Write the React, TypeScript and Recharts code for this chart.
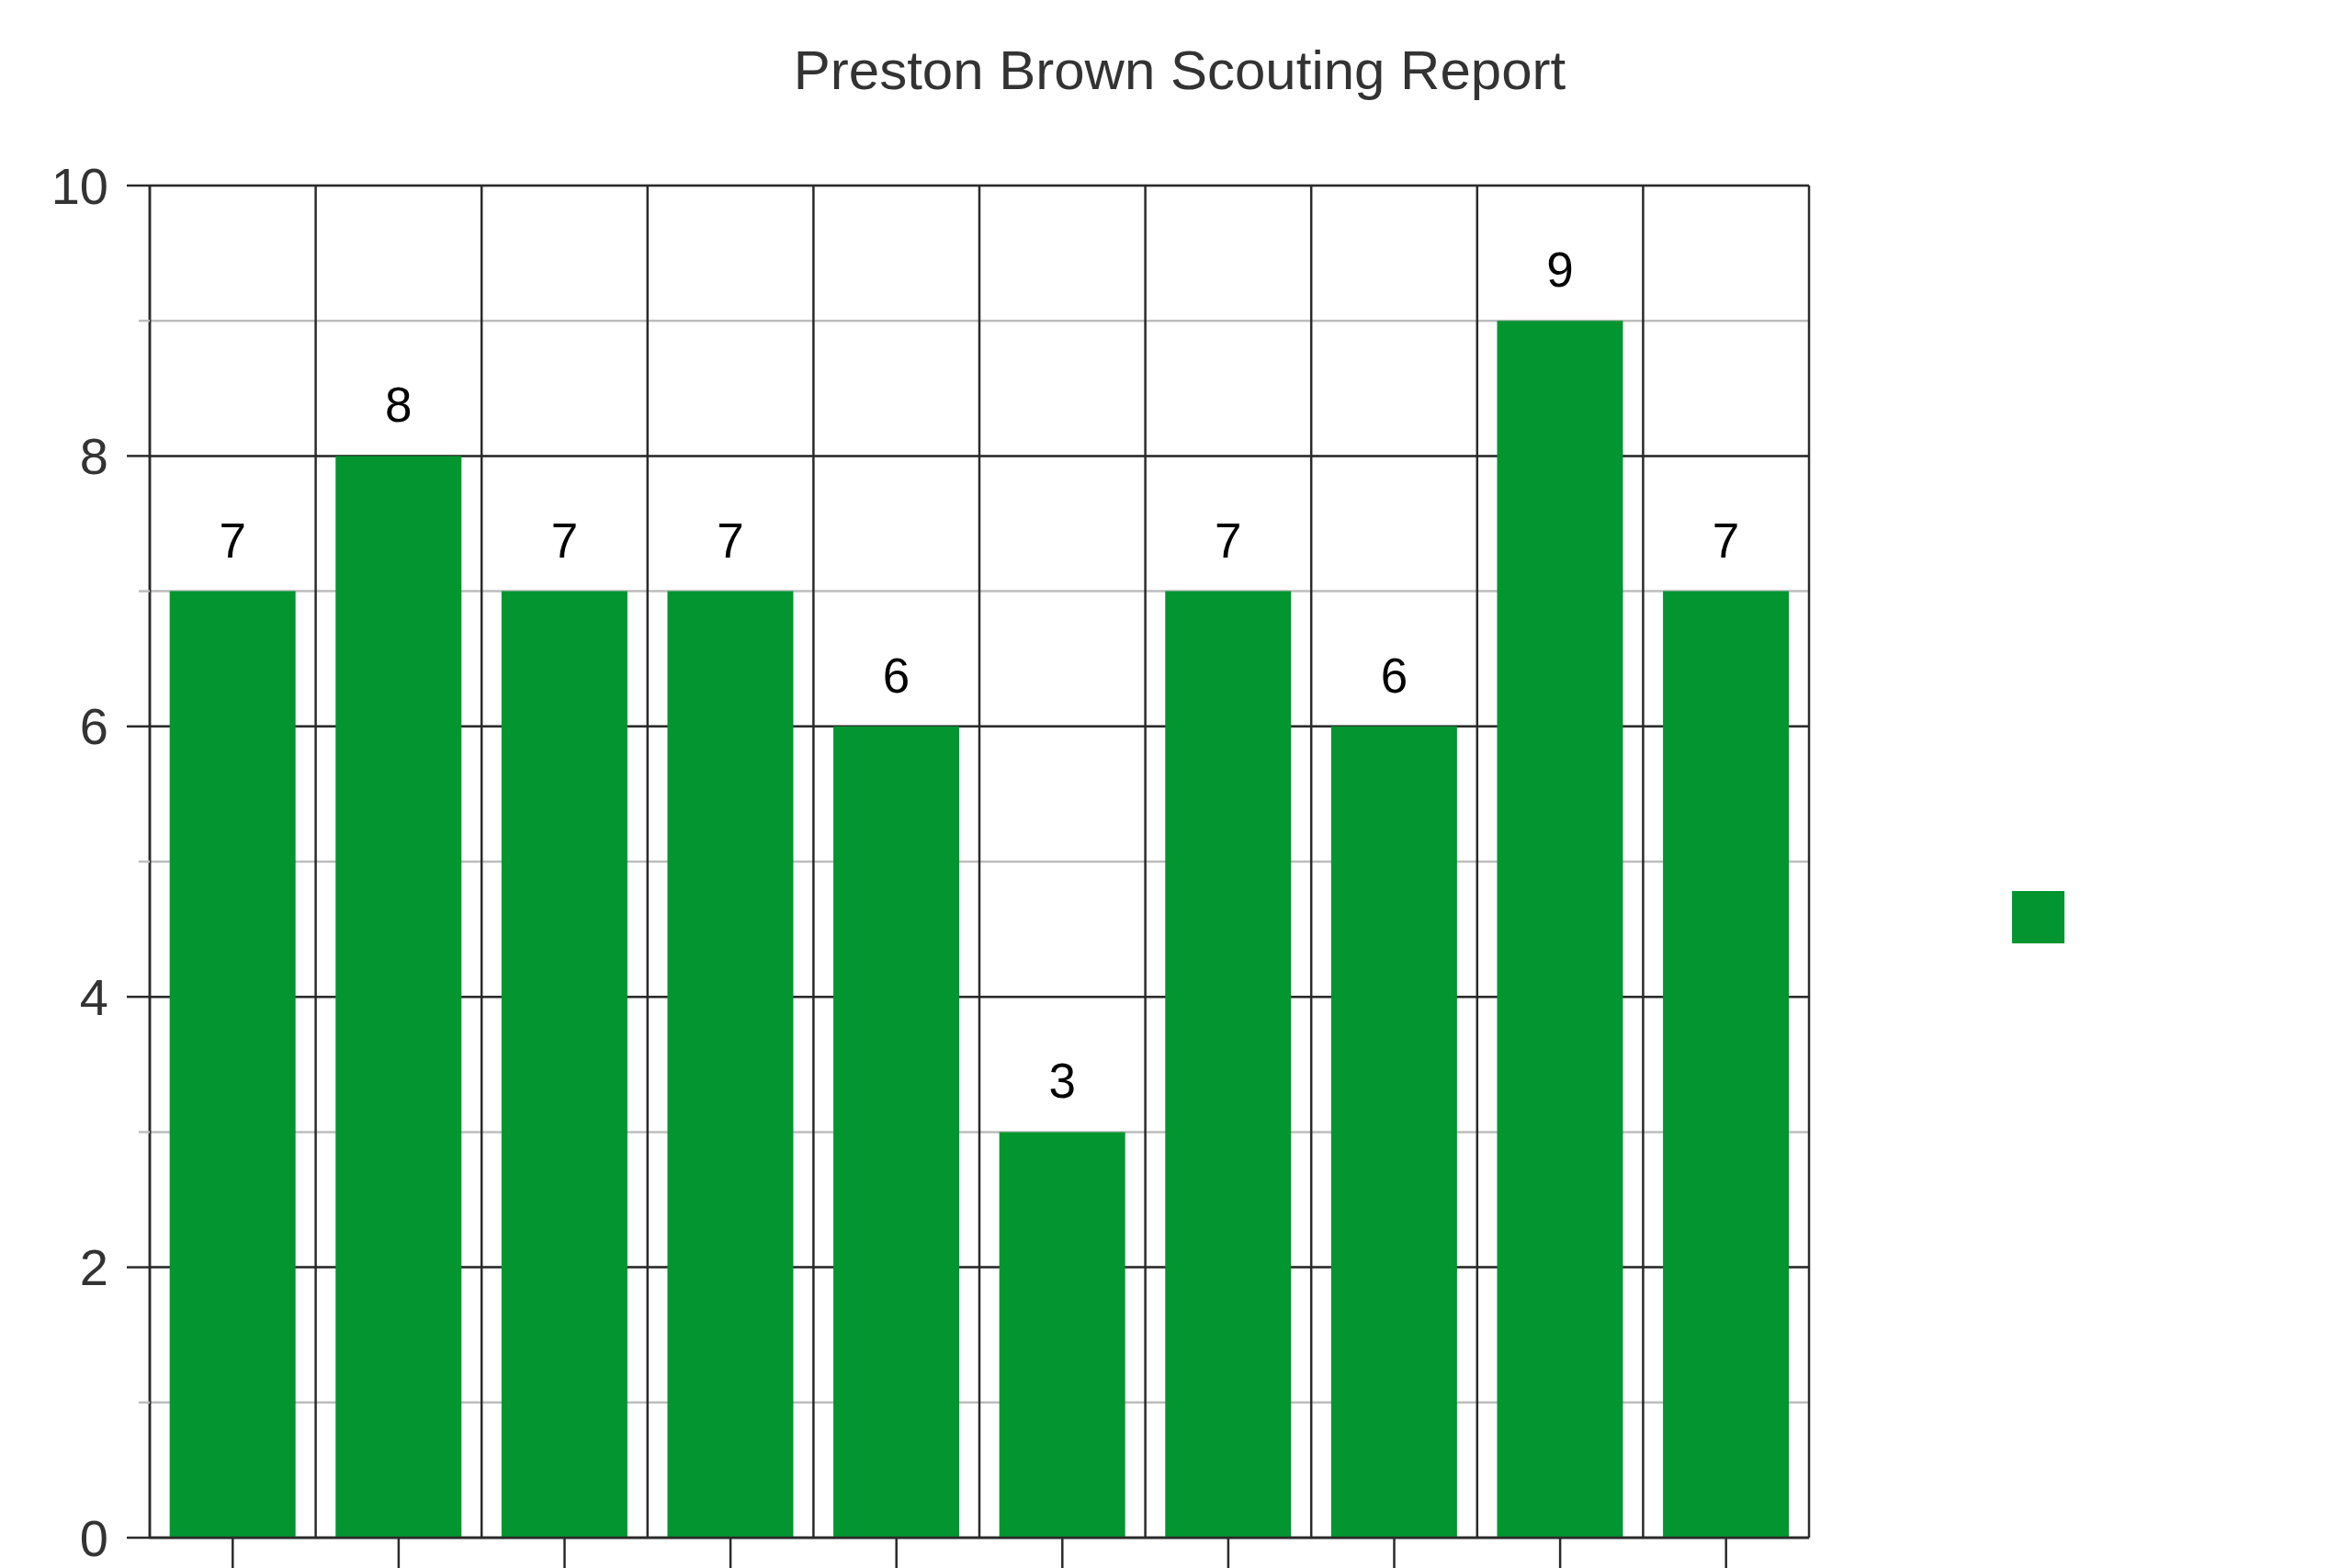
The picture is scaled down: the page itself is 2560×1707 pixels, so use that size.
import { Bar, BarChart, CartesianGrid, LabelList, Legend, XAxis, YAxis } from "recharts";

const title = "Preston Brown Scouting Report";
const categories = [
	"Athleticism",
	"Instincts",
	"Tackling",
	"Run Defense",
	"Pass Coverage",
	"Pass Rush",
	"Block Shedding",
	"Range",
	"Toughness",
	"Leadership",
];
const grades = [7, 8, 7, 7, 6, 3, 7, 6, 9, 7];
const yTicks = [0, 1, 2, 3, 4, 5, 6, 7, 8, 9, 10];
const yMajorTicks = [0, 2, 4, 6, 8, 10];
const Y_MAX = 10;

const chartData = categories.map((name, i) => ({ name, grade: grades[i] }));

const GREEN = "#029530";
const DARK = "#2a2a2a";
const LIGHT = "#bdbdbd";
const FONT = "'Liberation Sans', Arial, sans-serif";
const TICK_SIZE = 25;
const TICK_MARGIN = 20;

const YTick = (props: any) => {
	const { x, y, payload } = props;
	const major = payload.value % 2 === 0;
	const axisX = x + TICK_MARGIN + TICK_SIZE;
	return (
		<g>
			<line
				x1={axisX - (major ? TICK_SIZE : 12)}
				x2={axisX}
				y1={y}
				y2={y}
				stroke={major ? DARK : LIGHT}
				strokeWidth={2.5}
			/>
			{major && (
				<text
					x={x}
					y={y}
					textAnchor="end"
					dominantBaseline="central"
					fontSize={56}
					fontFamily={FONT}
					fill="#333"
				>
					{payload.value}
				</text>
			)}
		</g>
	);
};

// category names sit below the visible area, only the tick marks show
const NoLabel = () => <g />;

const LegendSquare = (props: any) => (
	<div>
		{(props.payload || []).map((item: any) => (
			<div
				key={item.value}
				style={{ width: 57, height: 57, background: item.color }}
			/>
		))}
	</div>
);

// category boundaries and even-value lines of the dark grid
const bandEdges = ({ offset }: any) =>
	[...categories, ""].map((_, i) => offset.left + (offset.width * i) / categories.length);
const majorLines = ({ offset }: any) =>
	yMajorTicks.map((v) => offset.top + offset.height * (1 - v / Y_MAX));

export default function App() {
	return (
		<div
			style={{
				position: "absolute",
				left: 0,
				top: 0,
				width: 2560,
				height: 1707,
				overflow: "hidden",
				background: "#fff",
			}}
		>
			<div
				style={{
					position: "absolute",
					left: 4,
					top: 42,
					width: 2560,
					textAlign: "center",
					fontFamily: FONT,
					fontSize: 60,
					color: "#333",
					lineHeight: "70px",
				}}
			>
				{title}
			</div>
			<BarChart
				width={2560}
				height={1707}
				data={chartData}
				margin={{ top: 202, right: 591, left: 0, bottom: 0 }}
				barCategoryGap="12%"
			>
				<CartesianGrid vertical={false} stroke={LIGHT} strokeWidth={2.5} />
				<CartesianGrid
					stroke={DARK}
					strokeWidth={2.5}
					verticalCoordinatesGenerator={bandEdges}
					horizontalCoordinatesGenerator={majorLines}
				/>
				<XAxis
					dataKey="name"
					height={33}
					tickSize={40}
					interval={0}
					tick={<NoLabel />}
					axisLine={{ stroke: DARK, strokeWidth: 2.5 }}
					tickLine={{ stroke: DARK, strokeWidth: 2.5 }}
				/>
				<YAxis
					type="number"
					domain={[0, Y_MAX]}
					ticks={yTicks}
					interval={0}
					width={163}
					tickSize={TICK_SIZE}
					tickMargin={TICK_MARGIN}
					tickLine={false}
					tick={<YTick />}
					axisLine={{ stroke: DARK, strokeWidth: 2.5 }}
				/>
				<Legend
					layout="vertical"
					align="center"
					verticalAlign="middle"
					content={<LegendSquare />}
					wrapperStyle={{ left: 2190, top: 970, width: 57, height: 57 }}
				/>
				<Bar dataKey="grade" fill={GREEN} isAnimationActive={false}>
					<LabelList
						dataKey="grade"
						position="top"
						offset={37}
						fontSize={53}
						fontFamily={FONT}
						fill="#000"
					/>
				</Bar>
			</BarChart>
		</div>
	);
}
